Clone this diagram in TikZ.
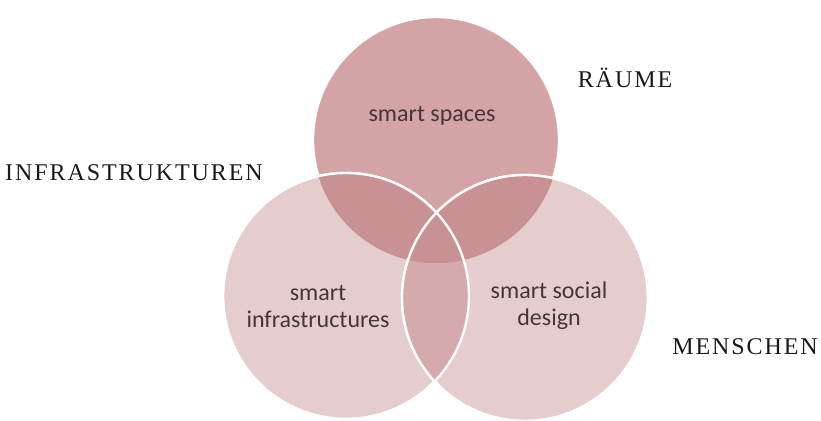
\documentclass[tikz,border=0pt]{standalone}
\usepackage{fontspec}
\setmainfont{Liberation Serif}
\newfontfamily\labelfont{Carlito}
\usepackage{xcolor}
\usepackage{tikz}
\usetikzlibrary{positioning}
\definecolor{rosedark}{RGB}{211,163,165}
\definecolor{roselight}{RGB}{229,205,206}
\definecolor{rosemid}{RGB}{212,170,173}
\definecolor{rosedeep}{RGB}{200,146,149}
\definecolor{textgray}{RGB}{68,54,56}
\newcommand{\vennradius}{123pt}

\begin{document}
\begin{tikzpicture}[x=1pt, y=-1pt]
  \tikzstyle{venn} = [circle, draw=white, line width=2.4pt, minimum size=246pt, inner sep=0pt]
  \tikzstyle{rim} = [draw=white, line width=2.4pt]
  \tikzstyle{inner} = [font=\fontsize{24}{27}\labelfont, text=textgray, align=center]
  \tikzstyle{outer} = [font=\fontsize{24}{28}\selectfont\addfontfeature{LetterSpace=8}, text=black!90]

  \useasboundingbox (0,0) rectangle (821,420);

  % the three sets
  \node [venn, fill=rosedark] (spaces) at (436,140) {};
  \node [venn, fill=roselight] (infra) at (346,296) {};
  \node [venn, fill=roselight] (social) at (525,298) {};

  % overlap of the two lower sets
  \begin{scope}
    \clip (infra.center) circle [radius=\vennradius];
    \fill [rosemid] (social.center) circle [radius=\vennradius];
  \end{scope}

  % overlaps with the upper set
  \begin{scope}
    \clip (spaces.center) circle [radius=\vennradius];
    \fill [rosedeep] (infra.center) circle [radius=\vennradius];
    \fill [rosedeep] (social.center) circle [radius=\vennradius];
  \end{scope}

  % white rims of the lower sets on top
  \draw [rim] (infra.center) circle [radius=\vennradius];
  \draw [rim] (social.center) circle [radius=\vennradius];

  % labels inside the circles
  \node [inner] (tspaces) at (432,116) {smart spaces};
  \node [inner] (tinfra) at (318,306) {smart\\infrastructures};
  \node [inner] (tsocial) at (549,306) {smart social\\design};

  % headings outside
  \node [outer, anchor=base] (raeume) at (625,87) {RÄUME};
  \node [outer, anchor=base] (infrastr) at (134,180) {INFRASTRUKTUREN};
  \node [outer, anchor=base] (menschen) at (745,354) {MENSCHEN};
\end{tikzpicture}
\end{document}
